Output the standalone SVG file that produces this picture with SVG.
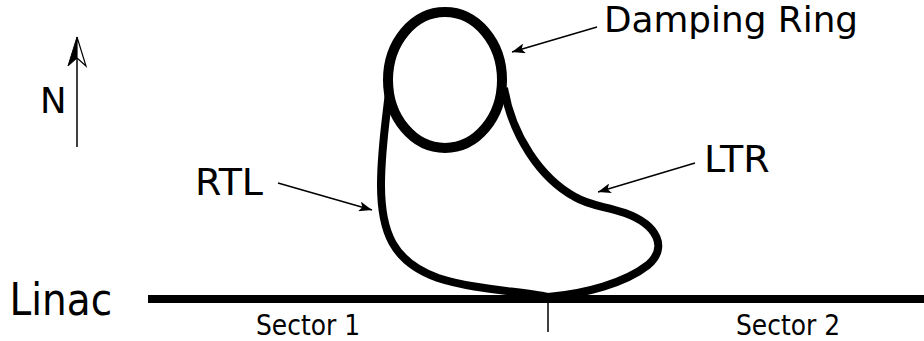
<svg xmlns="http://www.w3.org/2000/svg" width="924" height="341" viewBox="0 0 924 341">
<style>
.t{font-family:"DejaVu Sans",Verdana,sans-serif;fill:#000}
.thin{stroke:#000;stroke-width:1.5;fill:none}
</style>
<defs>
<marker id="ah" markerWidth="14" markerHeight="10" refX="13" refY="5" orient="auto" markerUnits="userSpaceOnUse">
<path d="M0,0 L13,5 L0,10 L3,5 Z" fill="#000"/>
</marker>
</defs>
<rect width="924" height="341" fill="#fff"/>
<g id="loop">
<path d="M 389 92 C 386 120, 381 150, 381 185 C 381 232, 393 262, 438 278 C 475 290, 520 291, 548 297 C 585 294, 625 283, 648 265 C 668 248, 658 225, 625 213 C 605 206, 590 206, 575 197 C 540 178, 512 135, 504 88" fill="none" stroke="#000" stroke-width="8" stroke-linejoin="round"/>
</g>
<g id="ring">
<ellipse cx="445" cy="80" rx="57" ry="68" fill="none" stroke="#000" stroke-width="10"/>
</g>
<g id="linac">
<line x1="148" y1="299" x2="924" y2="299" stroke="#000" stroke-width="8"/>
<line x1="548" y1="299" x2="548" y2="332" stroke="#000" stroke-width="1.5"/>
<text class="t" font-size="39" transform="translate(9.5,315) scale(1,1.13)">Linac</text>
<text class="t" font-size="25" transform="translate(256,335) scale(1,1.1)">Sector 1</text>
<text class="t" font-size="25" transform="translate(736,335) scale(1,1.1)">Sector 2</text>
</g>
<g id="north">
<line x1="77" y1="147" x2="77" y2="50" stroke="#000" stroke-width="1.5"/>
<polygon points="77,37 68,66 77,58" fill="#000" stroke="#000" stroke-width="1"/>
<polygon points="77,37 86,66 77,58" fill="#fff" stroke="#000" stroke-width="1.2"/>
<text class="t" font-size="35.5" x="40" y="113">N</text>
</g>
<g id="label-damping-ring">
<text class="t" font-size="35.8" x="604" y="32">Damping Ring</text>
</g>
<g id="label-ltr">
<text class="t" font-size="38" x="704" y="172">LTR</text>
</g>
<g id="label-rtl">
<text class="t" font-size="38" x="195" y="195">RTL</text>
</g>
<g id="connectors">
<line class="thin" x1="597" y1="27" x2="512" y2="52" marker-end="url(#ah)"/>
<line class="thin" x1="695" y1="163" x2="598" y2="192" marker-end="url(#ah)"/>
<line class="thin" x1="278" y1="183" x2="372" y2="210" marker-end="url(#ah)"/>
</g>
</svg>
